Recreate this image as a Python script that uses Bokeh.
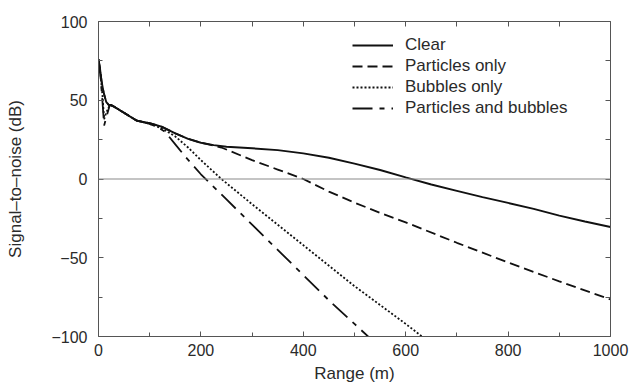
from bokeh.plotting import figure
from bokeh.models import LinearAxis, Span, Legend, LegendItem, Range1d, FixedTicker
from bokeh.embed import file_html
from bokeh.resources import INLINE

# Data
clear_x = [0, 3, 6, 10, 15, 20, 25, 30, 50, 75, 100, 125, 150, 175, 200, 225, 250, 300,
           350, 400, 450, 500, 550, 600, 650, 700, 750, 800, 850, 900, 950, 1000]
clear_y = [76, 70, 62, 55, 49, 47, 47, 46, 42, 37, 35.5, 33, 29, 25.5, 23, 21.5, 20.5, 19.5,
           18.3, 16.3, 13.5, 9.8, 5.7, 1, -3.5, -7.5, -11.5, -15.2, -19, -23.3, -27, -30.5]

part_x = [0, 3, 6, 10, 15, 20, 25, 30, 50, 75, 100, 125, 150, 175, 200, 240, 300, 350,
          400, 450, 500, 550, 600, 700, 800, 900, 1000]
part_y = [76, 70, 62, 55, 49, 47, 47, 46, 42, 37, 35.5, 33, 29, 25.5, 23, 20, 12, 6,
          0, -8, -15, -21.5, -27.5, -40.5, -53, -65, -76.5]

bub_x = [0, 4, 8, 11, 15, 22, 30, 50, 75, 100, 125, 150, 175, 200, 240, 300, 400, 500, 600, 640]
bub_y = [76, 66, 52, 38, 42, 47, 46, 42, 37, 35, 32, 27, 20, 12, 0, -16, -42, -68, -92, -102]

pb_x = [0, 4, 8, 11, 16, 22, 30, 50, 75, 100, 115, 130, 150, 170, 200, 250, 300, 350, 400, 450, 500, 530]
pb_y = [76, 65, 48, 34, 40, 47, 46, 42, 37, 35, 33, 30, 22, 14, 3, -13, -29, -45, -61, -77, -92, -101]

labels = ["Clear", "Particles only", "Bubbles only", "Particles and bubbles"]
x_ticks = [0, 200, 400, 600, 800, 1000]
x_minor = [100, 300, 500, 700, 900]
y_ticks = [-100, -50, 0, 50, 100]
y_minor = [-75, -25, 25, 75]

FONT = "Liberation Sans"
TXT = "#2a2a2a"
AX = "#555555"

p = figure(width=632, height=385, output_backend="svg", toolbar_location=None,
           x_range=Range1d(0, 1000), y_range=Range1d(-100, 100),
           min_border_left=98, min_border_right=22, min_border_top=21, min_border_bottom=48,
           background_fill_color="white", border_fill_color="white")
p.outline_line_color = None
p.grid.visible = False

p.xaxis.axis_label = "Range (m)"
p.yaxis.axis_label = "Signal\u2013to\u2013noise (dB)"

for ax in (p.xaxis[0], p.yaxis[0]):
    ax.axis_label_text_font = FONT
    ax.axis_label_text_font_size = "17px"
    ax.axis_label_text_font_style = "normal"
    ax.axis_label_text_color = TXT
    ax.major_label_text_font = FONT
    ax.major_label_text_font_size = "16px"
    ax.major_label_text_color = TXT
    ax.axis_line_color = AX
    ax.major_tick_line_color = AX
    ax.minor_tick_line_color = AX
    ax.major_tick_in = 5
    ax.major_tick_out = 0
    ax.minor_tick_in = 4
    ax.minor_tick_out = 0

p.xaxis[0].ticker = FixedTicker(ticks=x_ticks, minor_ticks=x_minor)
p.yaxis[0].ticker = FixedTicker(ticks=y_ticks, minor_ticks=y_minor)
p.xaxis[0].major_label_standoff = 7
p.xaxis[0].axis_label_standoff = 5
p.yaxis[0].major_label_standoff = 11
p.yaxis[0].axis_label_standoff = 23
p.yaxis[0].major_label_overrides = {-100: "\u2212100", -50: "\u221250"}

# mirrored tick marks (no labels) on the top and right edges
top = LinearAxis(ticker=FixedTicker(ticks=[], minor_ticks=sorted(x_ticks + x_minor)))
right = LinearAxis(ticker=FixedTicker(ticks=[], minor_ticks=sorted(y_ticks + y_minor)))
for ax in (top, right):
    ax.major_label_standoff = 0
    ax.axis_line_color = AX
    ax.major_tick_line_color = None
    ax.minor_tick_line_color = AX
    ax.major_tick_in = 0
    ax.major_tick_out = 0
    ax.minor_tick_in = 5
    ax.minor_tick_out = 0
p.add_layout(top, "above")
p.add_layout(right, "right")

p.add_layout(Span(location=0, dimension="width", line_color="#8a8a8a", line_width=1.2))

r1 = p.line(clear_x, clear_y, line_color="#111111", line_width=1.9)
r2 = p.line(part_x, part_y, line_color="#111111", line_width=1.8, line_dash="10 5")
r3 = p.line(bub_x, bub_y, line_color="#111111", line_width=1.8, line_dash="2 2")
r4 = p.line(pb_x, pb_y, line_color="#111111", line_width=1.8, line_dash="20 7 5 7")

legend = Legend(items=[LegendItem(label=labels[i], renderers=[r]) for i, r in enumerate([r1, r2, r3, r4])],
                location=(254, 218), padding=0, margin=0, spacing=1,
                glyph_width=41, glyph_height=20, label_height=20, label_standoff=12,
                label_text_font=FONT, label_text_font_size="17px", label_text_color=TXT,
                border_line_color=None, background_fill_alpha=0)
p.add_layout(legend, "center")

open("out.html", "w").write(file_html(p, INLINE))
